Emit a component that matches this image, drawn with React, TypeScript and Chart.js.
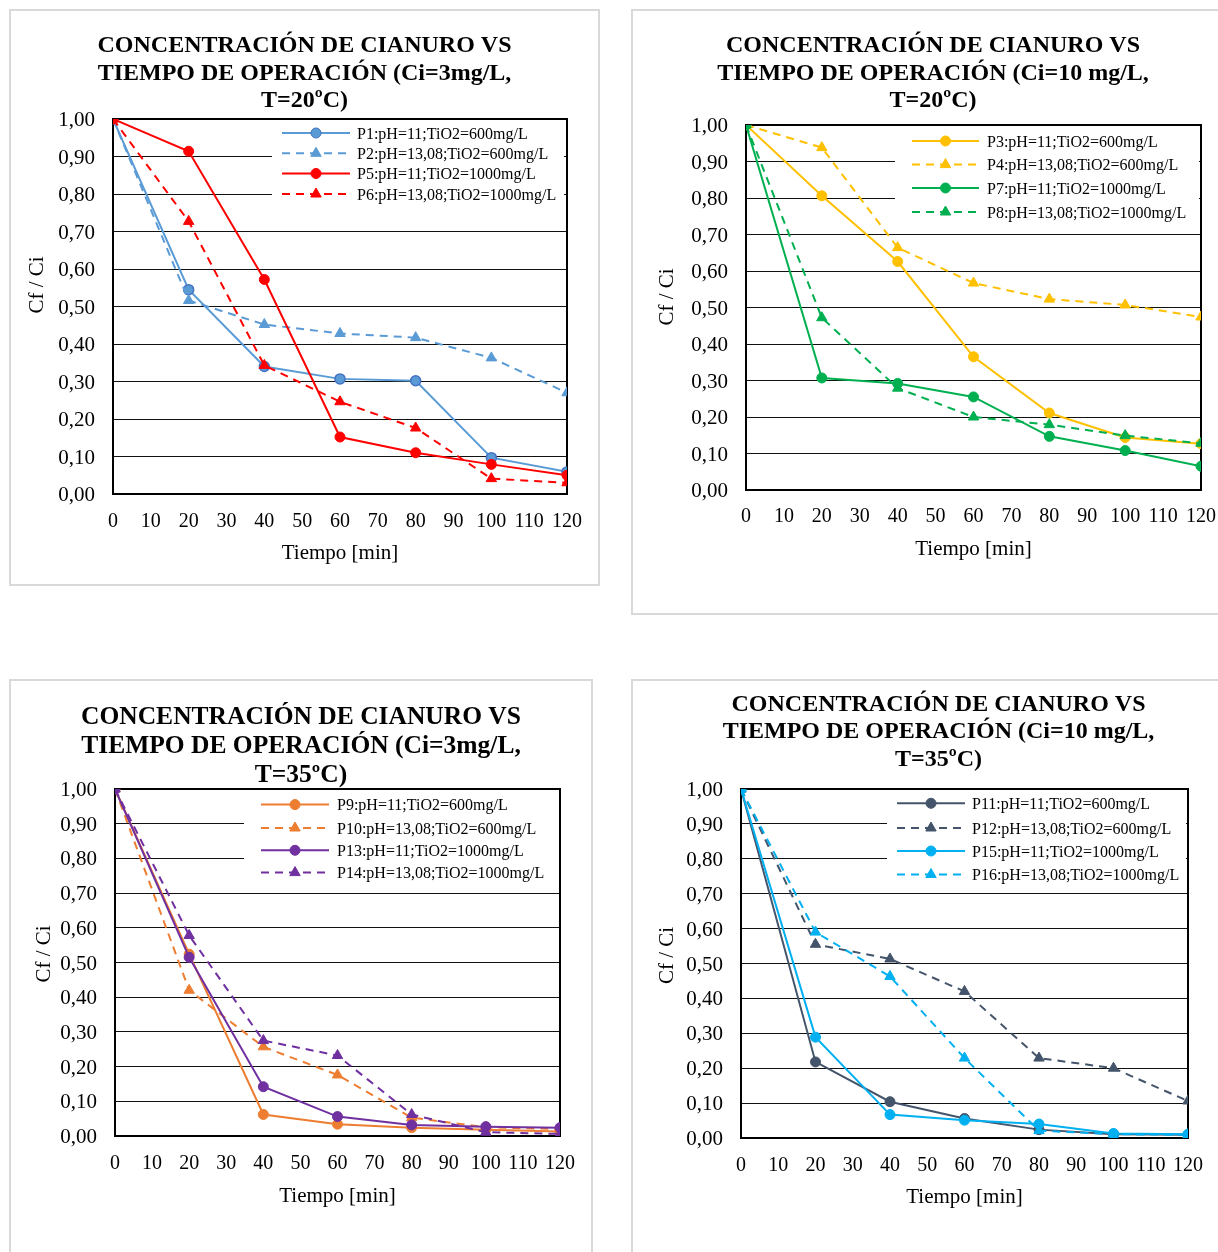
import React, { useEffect, useRef } from "react";
import { Chart, registerables } from "chart.js";

Chart.register(...registerables);

// ---------------- DATA ----------------
const timeMin = [0, 20, 40, 60, 80, 100, 120];
const xTickValues = [0, 10, 20, 30, 40, 50, 60, 70, 80, 90, 100, 110, 120];
const yTickValues = [0, 0.1, 0.2, 0.3, 0.4, 0.5, 0.6, 0.7, 0.8, 0.9, 1.0];

// Ci = 3 mg/L, T = 20 ºC
const p1 = [1.0, 0.545, 0.34, 0.307, 0.302, 0.097, 0.059];
const p2 = [1.0, 0.516, 0.452, 0.428, 0.417, 0.363, 0.27];
const p5 = [1.0, 0.914, 0.572, 0.152, 0.11, 0.079, 0.05];
const p6 = [1.0, 0.727, 0.343, 0.246, 0.176, 0.041, 0.03];

// Ci = 10 mg/L, T = 20 ºC
const p3 = [1.0, 0.806, 0.626, 0.365, 0.211, 0.144, 0.127];
const p4 = [1.0, 0.938, 0.664, 0.567, 0.523, 0.507, 0.474];
const p7 = [1.0, 0.307, 0.292, 0.255, 0.147, 0.108, 0.065];
const p8 = [1.0, 0.472, 0.279, 0.2, 0.179, 0.149, 0.128];

// Ci = 3 mg/L, T = 35 ºC
const p9 = [1.0, 0.524, 0.062, 0.034, 0.024, 0.018, 0.013];
const p10 = [1.0, 0.42, 0.257, 0.176, 0.053, 0.025, 0.02];
const p13 = [1.0, 0.515, 0.142, 0.056, 0.032, 0.027, 0.024];
const p14 = [1.0, 0.578, 0.275, 0.232, 0.062, 0.011, 0.006];

// Ci = 10 mg/L, T = 35 ºC
const p11 = [1.0, 0.218, 0.104, 0.056, 0.024, 0.011, 0.009];
const p12 = [1.0, 0.555, 0.513, 0.42, 0.229, 0.2, 0.106];
const p15 = [1.0, 0.289, 0.067, 0.051, 0.04, 0.013, 0.011];
const p16 = [1.0, 0.59, 0.463, 0.229, 0.021, 0.011, 0.009];

const titleLine1 = "CONCENTRACIÓN DE CIANURO VS";
const xTitle = "Tiempo [min]";
const yTitle = "Cf / Ci";

// ---------------- STYLE / LAYOUT ----------------
const FONT = "'Liberation Serif', 'Times New Roman', serif";
const DASH = [8, 6];
const BORDER = 2;
const TEXT_DY = 1.5;

type Series = {
  label: string;
  data: number[];
  color: string;
  dashed: boolean;
  marker: "circle" | "triangle";
  edge?: string;
};

type Spec = {
  panel: { x: number; y: number; w: number; h: number };
  plot: { l: number; t: number; r: number; b: number };
  title: string[];
  titleSize: number;
  titleLh: number;
  titleY0: number;
  xTickY: number;
  xTitleY: number;
  yTitlePos: { x: number; y: number };
  legend: {
    box: { l: number; t: number; r: number; b: number };
    x0: number;
    x1: number;
    tx: number;
    rows: number[];
  };
  series: Series[];
};

const specs: Spec[] = [
  {
    panel: { x: 9, y: 9, w: 591, h: 577 },
    plot: { l: 113, t: 119, r: 567, b: 494 },
    title: [titleLine1, "TIEMPO DE OPERACIÓN (Ci=3mg/L,", "T=20ºC)"],
    titleSize: 24,
    titleLh: 27.5,
    titleY0: 46,
    xTickY: 521.5,
    xTitleY: 553,
    yTitlePos: { x: 37, y: 285 },
    legend: {
      box: { l: 272, t: 121, r: 564, b: 206 },
      x0: 282,
      x1: 350,
      tx: 357,
      rows: [133, 153.3, 173.5, 194],
    },
    series: [
      { label: "P1:pH=11;TiO2=600mg/L", data: p1, color: "#5B9BD5", dashed: false, marker: "circle", edge: "#4472C4" },
      { label: "P2:pH=13,08;TiO2=600mg/L", data: p2, color: "#5B9BD5", dashed: true, marker: "triangle" },
      { label: "P5:pH=11;TiO2=1000mg/L", data: p5, color: "#FF0000", dashed: false, marker: "circle" },
      { label: "P6:pH=13,08;TiO2=1000mg/L", data: p6, color: "#FF0000", dashed: true, marker: "triangle" },
    ],
  },
  {
    panel: { x: 631, y: 9, w: 604, h: 606 },
    plot: { l: 746, t: 125, r: 1201, b: 490 },
    title: [titleLine1, "TIEMPO DE OPERACIÓN (Ci=10 mg/L,", "T=20ºC)"],
    titleSize: 24,
    titleLh: 27.6,
    titleY0: 46,
    xTickY: 517,
    xTitleY: 549,
    yTitlePos: { x: 667, y: 297 },
    legend: {
      box: { l: 895, t: 127, r: 1199, b: 222 },
      x0: 912,
      x1: 979,
      tx: 987,
      rows: [141, 164.6, 188, 212],
    },
    series: [
      { label: "P3:pH=11;TiO2=600mg/L", data: p3, color: "#FFC000", dashed: false, marker: "circle" },
      { label: "P4:pH=13,08;TiO2=600mg/L", data: p4, color: "#FFC000", dashed: true, marker: "triangle" },
      { label: "P7:pH=11;TiO2=1000mg/L", data: p7, color: "#00B050", dashed: false, marker: "circle" },
      { label: "P8:pH=13,08;TiO2=1000mg/L", data: p8, color: "#00B050", dashed: true, marker: "triangle" },
    ],
  },
  {
    panel: { x: 9, y: 679, w: 584, h: 580 },
    plot: { l: 115, t: 789, r: 562, b: 1136 },
    title: [titleLine1, "TIEMPO DE OPERACIÓN (Ci=3mg/L,", "T=35ºC)"],
    titleSize: 25.5,
    titleLh: 29.4,
    titleY0: 717,
    xTickY: 1164,
    xTitleY: 1196,
    yTitlePos: { x: 44, y: 954 },
    legend: {
      box: { l: 244, t: 791, r: 559, b: 884 },
      x0: 261,
      x1: 329,
      tx: 337,
      rows: [804.6, 828, 850.3, 872.6],
    },
    series: [
      { label: "P9:pH=11;TiO2=600mg/L", data: p9, color: "#ED7D31", dashed: false, marker: "circle" },
      { label: "P10:pH=13,08;TiO2=600mg/L", data: p10, color: "#ED7D31", dashed: true, marker: "triangle" },
      { label: "P13:pH=11;TiO2=1000mg/L", data: p13, color: "#7030A0", dashed: false, marker: "circle" },
      { label: "P14:pH=13,08;TiO2=1000mg/L", data: p14, color: "#7030A0", dashed: true, marker: "triangle" },
    ],
  },
  {
    panel: { x: 631, y: 679, w: 615, h: 580 },
    plot: { l: 741, t: 789, r: 1188, b: 1138 },
    title: [titleLine1, "TIEMPO DE OPERACIÓN (Ci=10 mg/L,", "T=35ºC)"],
    titleSize: 24,
    titleLh: 27.4,
    titleY0: 704.5,
    xTickY: 1166,
    xTitleY: 1197,
    yTitlePos: { x: 667, y: 955.5 },
    legend: {
      box: { l: 887, t: 791, r: 1186, b: 886 },
      x0: 897,
      x1: 965,
      tx: 972,
      rows: [803.3, 828, 851, 874.5],
    },
    series: [
      { label: "P11:pH=11;TiO2=600mg/L", data: p11, color: "#44546A", dashed: false, marker: "circle" },
      { label: "P12:pH=13,08;TiO2=600mg/L", data: p12, color: "#44546A", dashed: true, marker: "triangle" },
      { label: "P15:pH=11;TiO2=1000mg/L", data: p15, color: "#00B0F0", dashed: false, marker: "circle" },
      { label: "P16:pH=13,08;TiO2=1000mg/L", data: p16, color: "#00B0F0", dashed: true, marker: "triangle" },
    ],
  },
];

function fmt(v: number) {
  return Number(v).toFixed(2).replace(".", ",");
}

function drawMarker(ctx: CanvasRenderingContext2D, kind: string, x: number, y: number, color: string, edge?: string) {
  ctx.save();
  ctx.setLineDash([]);
  ctx.fillStyle = color;
  ctx.strokeStyle = edge || color;
  ctx.lineWidth = 1;
  ctx.beginPath();
  if (kind === "circle") {
    ctx.arc(x, y, 5, 0, Math.PI * 2);
  } else {
    const r = 6;
    let a = 0;
    ctx.moveTo(x + Math.sin(a) * r, y - Math.cos(a) * r);
    a += (2 * Math.PI) / 3;
    ctx.lineTo(x + Math.sin(a) * r, y - Math.cos(a) * r);
    a += (2 * Math.PI) / 3;
    ctx.lineTo(x + Math.sin(a) * r, y - Math.cos(a) * r);
    ctx.closePath();
  }
  ctx.fill();
  ctx.stroke();
  ctx.restore();
}

function ChartPanel({ spec }: { spec: Spec }) {
  const ref = useRef<HTMLCanvasElement | null>(null);
  const ox = spec.panel.x + BORDER;
  const oy = spec.panel.y + BORDER;
  const cw = spec.panel.w - 2 * BORDER;
  const ch = spec.panel.h - 2 * BORDER;

  useEffect(() => {
    const canvas = ref.current;
    if (!canvas) return;
    const { plot } = spec;
    const L = plot.l - ox;
    const T = plot.t - oy;
    const R = plot.r - ox;
    const B = plot.b - oy;
    const pr = cw - R;
    const xTickFont = { family: FONT, size: 20, lineHeight: 1.2 };
    const yTickFont = { family: FONT, size: 21, lineHeight: 1.2 };

    const n = spec.series.length;
    const datasets = spec.series.map((s, i) => ({
      label: s.label,
      data: timeMin.map((t, k) => ({ x: t, y: s.data[k] })),
      borderColor: s.color,
      backgroundColor: s.color,
      borderWidth: 2,
      borderDash: s.dashed ? DASH : [],
      pointStyle: s.marker,
      pointRadius: s.marker === "circle" ? 5 : 6,
      pointBackgroundColor: s.color,
      pointBorderColor: s.edge || s.color,
      pointBorderWidth: s.edge ? 1.5 : 1,
      tension: 0,
      fill: false,
      order: n - i,
    }));

    const decor = {
      id: "decor",
      beforeDatasetsDraw(chart: any) {
        const ctx: CanvasRenderingContext2D = chart.ctx;
        const a = chart.chartArea;
        const lg = spec.legend;
        ctx.save();

        // chart title (centred on the panel)
        ctx.fillStyle = "#000000";
        ctx.font = `bold ${spec.titleSize}px ${FONT}`;
        ctx.textAlign = "center";
        ctx.textBaseline = "middle";
        spec.title.forEach((line, i) => {
          ctx.fillText(line, cw / 2, spec.titleY0 - oy + i * spec.titleLh);
        });

        // legend background
        ctx.fillStyle = "#ffffff";
        ctx.fillRect(lg.box.l - ox, lg.box.t - oy, lg.box.r - lg.box.l, lg.box.b - lg.box.t);

        // plot border
        ctx.strokeStyle = "#000000";
        ctx.lineWidth = 2;
        ctx.setLineDash([]);
        ctx.strokeRect(a.left, a.top, a.right - a.left, a.bottom - a.top);

        // legend entries
        spec.series.forEach((s, i) => {
          const y = lg.rows[i] - oy;
          ctx.beginPath();
          ctx.setLineDash(s.dashed ? DASH : []);
          ctx.strokeStyle = s.color;
          ctx.lineWidth = 2;
          ctx.moveTo(lg.x0 - ox, y);
          ctx.lineTo(lg.x1 - ox, y);
          ctx.stroke();
          ctx.setLineDash([]);
          drawMarker(ctx, s.marker, (lg.x0 + lg.x1) / 2 - ox, y, s.color, s.edge);
          ctx.fillStyle = "#000000";
          ctx.font = `16px ${FONT}`;
          ctx.textAlign = "left";
          ctx.textBaseline = "middle";
          ctx.fillText(s.label, lg.tx - ox, y + TEXT_DY);
        });

        // axis titles
        ctx.fillStyle = "#000000";
        ctx.font = `21px ${FONT}`;
        ctx.textAlign = "center";
        ctx.textBaseline = "middle";
        ctx.fillText(xTitle, (a.left + a.right) / 2, spec.xTitleY - oy);
        ctx.save();
        ctx.translate(spec.yTitlePos.x - ox, spec.yTitlePos.y - oy);
        ctx.rotate(-Math.PI / 2);
        ctx.fillText(yTitle, 0, 0);
        ctx.restore();
        ctx.restore();
      },
    };

    const chart = new Chart(canvas, {
      type: "line",
      data: { datasets: datasets as any },
      options: {
        animation: false,
        responsive: false,
        maintainAspectRatio: false,
        devicePixelRatio: 1,
        layout: { padding: { left: 0, top: T, right: pr, bottom: 0 } },
        plugins: {
          legend: { display: false },
          tooltip: { enabled: false },
          title: { display: false },
        },
        scales: {
          x: {
            type: "linear",
            min: 0,
            max: 120,
            afterBuildTicks: (s: any) => {
              s.ticks = xTickValues.map((v) => ({ value: v }));
            },
            afterFit: (s: any) => {
              s.height = ch - B;
            },
            ticks: {
              autoSkip: false,
              maxRotation: 0,
              minRotation: 0,
              padding: spec.xTickY - plot.b - 12,
              color: "#000000",
              font: xTickFont,
            },
            grid: { display: false, drawTicks: false },
            border: { display: false },
          },
          y: {
            type: "linear",
            min: 0,
            max: 1,
            afterBuildTicks: (s: any) => {
              s.ticks = yTickValues.map((v) => ({ value: v }));
            },
            afterFit: (s: any) => {
              s.width = L;
            },
            ticks: {
              padding: 18,
              labelOffset: 1.5,
              color: "#000000",
              font: yTickFont,
              callback: (v: any) => fmt(v),
            },
            grid: { color: "#111111", lineWidth: 1, drawTicks: false },
            border: { display: false },
          },
        },
      } as any,
      plugins: [decor],
    });
    return () => chart.destroy();
  }, [spec]);

  return (
    <div
      style={{
        position: "absolute",
        left: spec.panel.x,
        top: spec.panel.y,
        width: spec.panel.w,
        height: spec.panel.h,
        boxSizing: "border-box",
        border: `${BORDER}px solid #d9d9d9`,
        background: "#ffffff",
      }}
    >
      <canvas ref={ref} width={cw} height={ch} style={{ display: "block", width: cw, height: ch }} />
    </div>
  );
}

export default function App() {
  return (
    <div
      style={{
        position: "absolute",
        left: 0,
        top: 0,
        width: 1218,
        height: 1252,
        overflow: "hidden",
        background: "#ffffff",
      }}
    >
      {specs.map((s, i) => (
        <ChartPanel key={i} spec={s} />
      ))}
    </div>
  );
}
